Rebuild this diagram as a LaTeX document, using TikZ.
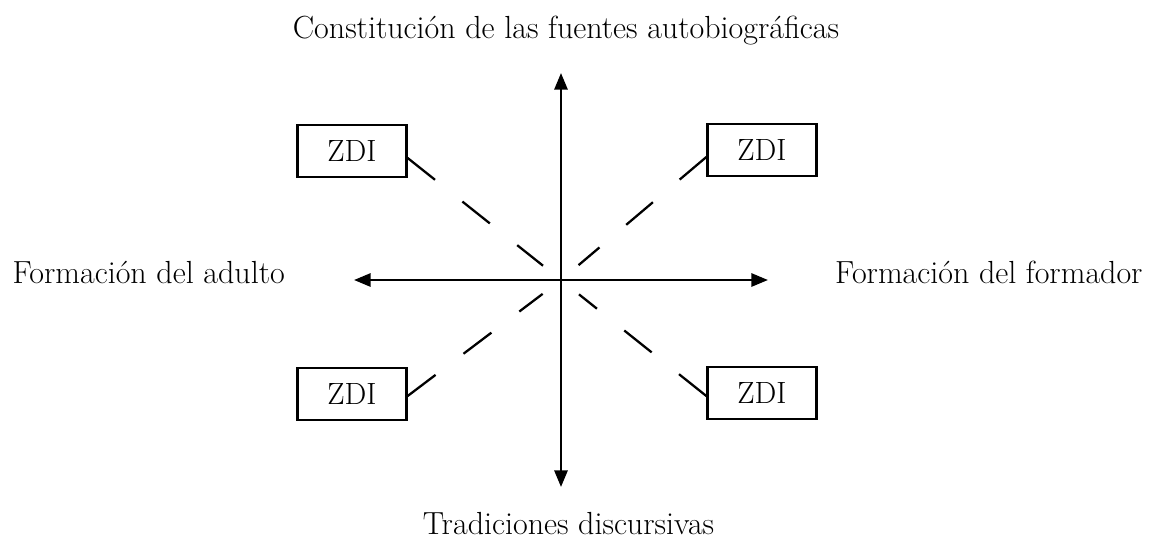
\documentclass[tikz,border=0pt]{standalone}
\usetikzlibrary{arrows.meta}

\begin{document}
\begin{tikzpicture}[font=\fontsize{18.2}{22}\selectfont]
\tikzstyle{axis}=[line width=1.4pt,-{Triangle[length=9.5pt,width=7.5pt]}]
\tikzstyle{zdi}=[draw=black,line width=1.3pt,minimum width=2.18cm,minimum height=1.04cm,inner sep=0pt,font=\fontsize{17.5}{20}\selectfont]
\tikzstyle{ray}=[line width=1.3pt,dash pattern=on 0.7cm off 0.7cm,shorten >=0.46cm]

\useasboundingbox (-11.22,-5.24) rectangle (11.84,5.6);

\coordinate (o) at (0,0);
\coordinate (n) at (0,4.14);
\coordinate (s) at (0,-4.14);
\coordinate (w) at (-4.14,0);
\coordinate (e) at (4.14,0);
\draw[axis] (o) -- (n);
\draw[axis] (o) -- (s);
\draw[axis] (o) -- (w);
\draw[axis] (o) -- (e);

\node[anchor=base] (fuentes) at (0.1,4.84) {Constitución de las fuentes autobiográficas};
\node[anchor=base] (tradiciones) at (0.15,-5.08) {Tradiciones discursivas};
\node[anchor=base east] (adulto) at (-5.4,-0.06) {Formación del adulto};
\node[anchor=base west] (formador) at (5.36,-0.06) {Formación del formador};

\node[zdi] (zdia) at (-4.18,2.58) {ZDI};
\node[zdi] (zdib) at (4.02,2.6) {ZDI};
\node[zdi] (zdic) at (-4.18,-2.28) {ZDI};
\node[zdi] (zdid) at (4.02,-2.26) {ZDI};
\draw[ray] ([yshift=-0.14cm]zdia.east) -- (o);
\draw[ray] ([yshift=-0.14cm]zdib.west) -- (o);
\draw[ray] ([yshift=-0.04cm]zdic.east) -- (o);
\draw[ray] ([yshift=-0.06cm]zdid.west) -- (o);
\end{tikzpicture}
\end{document}
